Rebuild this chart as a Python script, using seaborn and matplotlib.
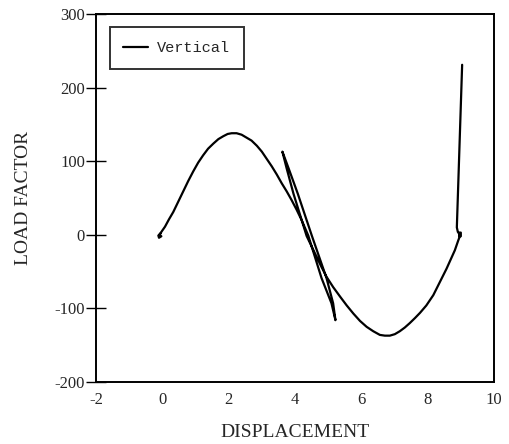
import numpy as np
import pandas as pd
import seaborn as sns
import matplotlib.pyplot as plt

# Digitised load path (displacement, load factor), in drawing order
start_x = [-0.05, -0.12, -0.10, -0.03, -0.09]
start_y = [2, -1, -4, -2, 0]

rise_x = [0.08, 0.2, 0.33, 0.48, 0.63, 0.78, 0.93, 1.08, 1.23, 1.38, 1.54, 1.69, 1.84, 1.97,
          2.09, 2.24, 2.39, 2.54, 2.69, 2.85, 3.0, 3.15, 3.3, 3.45, 3.6, 3.75, 3.9, 4.05, 4.2, 4.4]
rise_y = [11, 21, 31, 45, 59, 73, 86, 98, 108, 117, 124, 130, 134, 137,
          138, 138, 136, 132, 128, 121, 113, 103, 93, 82, 70, 59, 47, 34, 20, -1]

loop_x = [4.8, 5.1, 5.22, 5.15, 4.95, 4.51, 4.085, 3.81, 3.62, 3.75, 3.955, 4.35]
loop_y = [-58.75, -93, -116, -93, -58.75, -1.5, 55.75, 90, 113, 90, 55.75, -1.5]

fall_x = [4.6, 4.78, 4.95, 5.15, 5.36, 5.56, 5.76, 5.96, 6.16, 6.36, 6.56, 6.71, 6.86, 7.01,
          7.16, 7.31, 7.46, 7.62, 7.77, 7.96, 8.17, 8.37, 8.57, 8.7, 8.82, 8.92, 8.97]
fall_y = [-25, -42, -57, -71, -84, -96, -107, -117, -125, -131, -136, -137, -137, -135,
          -131, -126, -120, -113, -106, -96, -82, -64, -46, -33, -21, -8, -2]

end_x = [9.0, 9.0, 8.95, 8.95, 8.97, 8.91, 8.88, 9.04]
end_y = [-2, 3, 3, -2, 0, 4, 10, 231]

series_name = "Vertical"
x_ticks = [-2, 0, 2, 4, 6, 8, 10]
y_ticks = [-200, -100, 0, 100, 200, 300]

displacement = start_x + rise_x + loop_x + fall_x + end_x
load_factor = start_y + rise_y + loop_y + fall_y + end_y
df = pd.DataFrame({"DISPLACEMENT": displacement, "LOAD FACTOR": load_factor,
                   "series": [series_name] * len(displacement)})

sns.set_theme(style="white")
plt.rcParams["font.family"] = ["Liberation Serif", "DejaVu Serif"]

fig = plt.figure(figsize=(5.09, 4.44), dpi=100)
ax = fig.add_axes([0.1886, 0.1396, 0.7819, 0.8289])

sns.lineplot(data=df, x="DISPLACEMENT", y="LOAD FACTOR", hue="series", palette=["black"],
             sort=False, estimator=None, linewidth=1.6, ax=ax)

ax.set_xlim(-2, 10)
ax.set_ylim(-200, 300)
ax.set_xticks(x_ticks)
ax.set_yticks(y_ticks)
ax.set_xticklabels([str(t) for t in x_ticks], fontsize=12)
ax.set_yticklabels([str(t) for t in y_ticks], fontsize=12)
ax.tick_params(axis="y", left=True, direction="inout", length=14, width=1, color="black", pad=1)
ax.tick_params(axis="x", direction="in", length=0, pad=7)
ax.set_xlabel("DISPLACEMENT", fontsize=14, labelpad=12)
ax.set_ylabel("LOAD FACTOR", fontsize=14, labelpad=16)

for s in ax.spines.values():
    s.set_color("black")
    s.set_linewidth(1.4)

leg = ax.legend(loc="upper left", bbox_to_anchor=(0.015, 0.985), frameon=True, fancybox=False,
                prop={"family": "Liberation Mono", "size": 11}, handlelength=1.6,
                borderpad=0.9, handletextpad=0.6)
leg.get_frame().set_edgecolor("black")
leg.get_frame().set_linewidth(1.4)

fig.savefig("out.png", dpi=100)
